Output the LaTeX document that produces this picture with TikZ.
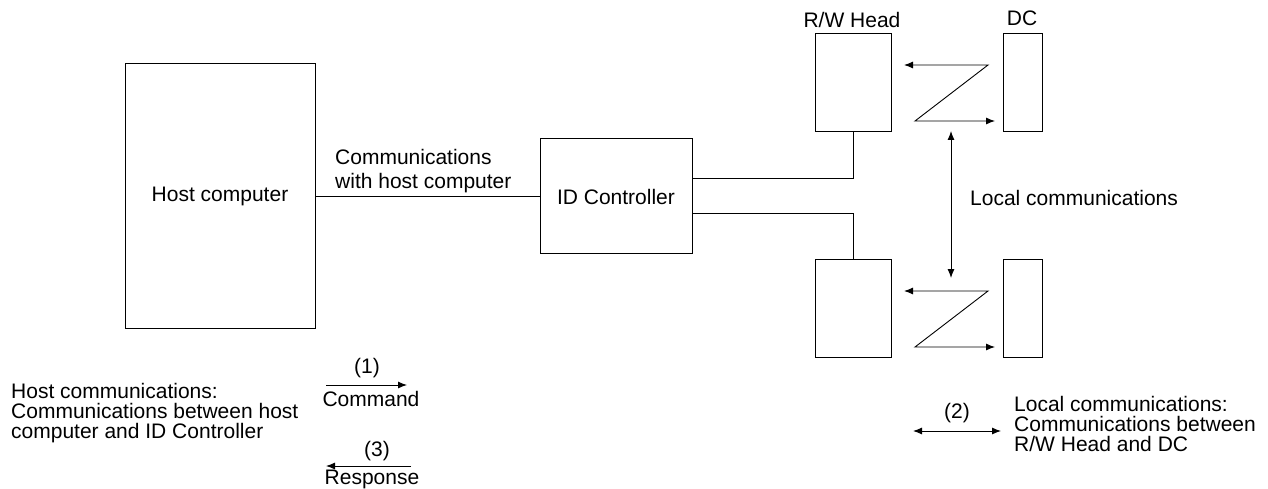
\documentclass[tikz,border=0pt]{standalone}
\usepackage{fontspec}
\setmainfont{Liberation Sans}
\usetikzlibrary{arrows.meta}
\begin{document}
\begin{tikzpicture}[x=1pt,y=-1pt,
  box/.style={draw,line width=1pt,inner sep=0pt},
  lbl/.style={inner sep=0pt,font=\fontsize{21}{20}\selectfont},
  conn/.style={line width=0.9pt},
  arr/.style={line width=0.9pt,-{Latex[length=9pt,width=7pt]}},
  darr/.style={line width=0.9pt,{Latex[length=9pt,width=7pt]}-{Latex[length=9pt,width=7pt]}}]
\useasboundingbox (0,0) rectangle (1268,489);
% boxes
\node[box,minimum width=190pt,minimum height=264pt] (host) at (220,196) {};
\node[lbl] (hostt) at (220,196) {Host computer};
\node[box,minimum width=152pt,minimum height=114pt] (ctrl) at (616,196) {};
\node[lbl] (ctrlt) at (616,197) {ID Controller};
\node[box,minimum width=76pt,minimum height=98pt] (rw1) at (853,83) {};
\node[box,minimum width=39pt,minimum height=98pt] (dc1) at (1022.5,82.5) {};
\node[box,minimum width=76pt,minimum height=98pt] (rw2) at (853,308) {};
\node[box,minimum width=39pt,minimum height=98pt] (dc2) at (1022.5,308) {};
% labels
\node[lbl] (rwl) at (852,20) {R/W Head};
\node[lbl] (dcl) at (1022,18) {DC};
\node[lbl,anchor=west,align=left,font=\fontsize{21}{23.5}\selectfont] (hcl) at (335,171) {Communications\\with host computer};
\node[lbl,anchor=west] (lcl) at (970,198) {Local communications};
% host to controller
\draw[conn] (host.east) -- (ctrl.west);
% controller to heads
\coordinate (c1) at (692,178);
\coordinate (c2) at (692,213);
\draw[conn] (c1) -| (rw1.south);
\draw[conn] (c2) -| (rw2.north);
% Z arrows upper
\coordinate (z1a) at (904,65);
\coordinate (z1b) at (988,65);
\coordinate (z1c) at (915,121);
\coordinate (z1d) at (995,121);
\draw[darr] (z1a) -- (z1b) -- (z1c) -- (z1d);
% Z arrows lower
\coordinate (z2a) at (904,291);
\coordinate (z2b) at (988,291);
\coordinate (z2c) at (915,347);
\coordinate (z2d) at (995,347);
\draw[darr] (z2a) -- (z2b) -- (z2c) -- (z2d);
% local vertical arrow
\coordinate (v1) at (951,131);
\coordinate (v2) at (951,278);
\draw[darr] (v1) -- (v2);
% legend left
\node[lbl,anchor=west,align=left] (hleg) at (11,413) {Host communications:\\Communications between host\\computer and ID Controller};
\node[lbl] (n1) at (367,368) {(1)};
\coordinate (a1s) at (326,385);
\coordinate (a1e) at (407,385);
\draw[arr] (a1s) -- (a1e);
\node[lbl] (cmd) at (371,399) {Command};
\node[lbl] (n3) at (377,451) {(3)};
\coordinate (a3s) at (411,466);
\coordinate (a3e) at (326,466);
\draw[arr] (a3s) -- (a3e);
\node[lbl] (resp) at (372,479) {Response};
% legend right
\node[lbl] (n2) at (957,413) {(2)};
\coordinate (a2s) at (913,431);
\coordinate (a2e) at (1001,431);
\draw[darr] (a2s) -- (a2e);
\node[lbl,anchor=west,align=left] (lleg) at (1014,424) {Local communications:\\Communications between\\R/W Head and DC};
\end{tikzpicture}
\end{document}
